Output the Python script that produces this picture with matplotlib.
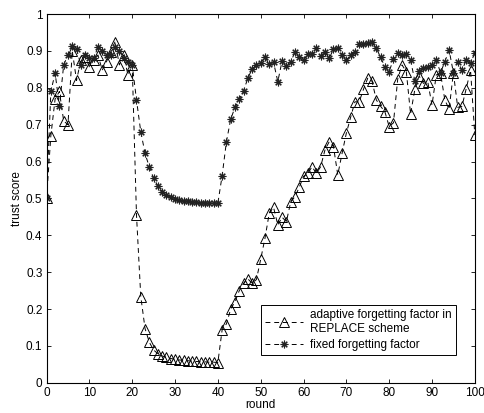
import matplotlib
matplotlib.use("Agg")
import matplotlib.pyplot as plt
import numpy as np

# ── Data ─────────────────────────────────────────────────────────────
rounds = np.arange(0, 101)

adaptive = [
    0.50, 0.67, 0.77, 0.79, 0.71, 0.70, 0.90, 0.82, 0.875, 0.884,
    0.857, 0.875, 0.889, 0.848, 0.871, 0.898, 0.925, 0.862, 0.889, 0.835,
    0.862, 0.455, 0.234, 0.147, 0.11, 0.089, 0.079, 0.073, 0.069, 0.066,
    0.064, 0.062, 0.061, 0.060, 0.059, 0.058, 0.057, 0.057, 0.056, 0.056,
    0.055, 0.144, 0.16, 0.20, 0.22, 0.25, 0.27, 0.282, 0.27, 0.28,
    0.335, 0.392, 0.46, 0.476, 0.428, 0.449, 0.437, 0.49, 0.505, 0.53,
    0.56, 0.568, 0.586, 0.568, 0.586, 0.631, 0.654, 0.64, 0.564, 0.622,
    0.677, 0.72, 0.762, 0.762, 0.796, 0.826, 0.818, 0.767, 0.75, 0.735,
    0.695, 0.705, 0.824, 0.862, 0.844, 0.729, 0.796, 0.832, 0.812, 0.817,
    0.753, 0.835, 0.839, 0.767, 0.742, 0.841, 0.747, 0.75, 0.798, 0.848,
    0.672,
]

fixed = [
    0.50, 0.79, 0.84, 0.75, 0.862, 0.889, 0.914, 0.905, 0.862, 0.89,
    0.88, 0.88, 0.91, 0.90, 0.89, 0.89, 0.91, 0.90, 0.88, 0.87,
    0.862, 0.767, 0.681, 0.622, 0.585, 0.555, 0.534, 0.518, 0.509, 0.503,
    0.499, 0.496, 0.494, 0.492, 0.491, 0.490, 0.489, 0.488, 0.488, 0.487,
    0.487, 0.562, 0.654, 0.715, 0.747, 0.769, 0.792, 0.826, 0.851, 0.862,
    0.868, 0.883, 0.864, 0.869, 0.817, 0.873, 0.86, 0.871, 0.896, 0.883,
    0.875, 0.891, 0.891, 0.907, 0.886, 0.898, 0.88, 0.905, 0.907, 0.889,
    0.875, 0.889, 0.898, 0.918, 0.918, 0.921, 0.923, 0.907, 0.883, 0.857,
    0.844, 0.878, 0.895, 0.889, 0.891, 0.875, 0.818, 0.846, 0.853, 0.857,
    0.862, 0.875, 0.841, 0.871, 0.902, 0.841, 0.871, 0.848, 0.875, 0.866,
    0.895,
]

xticks = np.arange(0, 101, 10)
yticks = np.round(np.arange(0, 1.01, 0.1), 1)
ytick_labels = ["0"] + [f"{v:g}" for v in yticks[1:-1]] + ["1"]

label_adaptive = "adaptive forgetting factor in\nREPLACE scheme"
label_fixed = "fixed forgetting factor"

# ── Plot ─────────────────────────────────────────────────────────────
plt.rcParams["font.family"] = ["Liberation Sans", "DejaVu Sans"]

fig = plt.figure(figsize=(4.85, 4.13), dpi=100)
ax = fig.add_axes([0.096, 0.073, 0.883, 0.893])

dash = (0, (5, 4))
ax.plot(rounds, adaptive, color="black", linestyle=dash, linewidth=0.7,
        marker="^", markersize=6.5, markerfacecolor="none",
        markeredgecolor="black", markeredgewidth=0.7, label=label_adaptive)
ax.plot(rounds, fixed, color="black", linestyle=dash, linewidth=0.7,
        marker=(8, 2, 0), markersize=5.5, markeredgecolor="#222222",
        markeredgewidth=0.8, label=label_fixed)

ax.set_xlim(0, 100)
ax.set_ylim(0, 1)
ax.set_xticks(xticks)
ax.set_yticks(yticks)
ax.set_yticklabels(ytick_labels)
ax.tick_params(direction="in", top=True, right=True, labelsize=8.5,
               length=3, width=0.6, pad=3)
for s in ax.spines.values():
    s.set_linewidth(0.8)

ax.set_xlabel("round", fontsize=8.5, labelpad=0)
ax.set_ylabel("trust score", fontsize=8.5, labelpad=2)

leg = ax.legend(loc="lower right", bbox_to_anchor=(0.955, 0.075),
                fontsize=8.5, frameon=True, fancybox=False, framealpha=1,
                edgecolor="black", handlelength=3.2, borderpad=0.35,
                labelspacing=0.35, handletextpad=0.6, borderaxespad=0)
leg.get_frame().set_linewidth(0.7)

fig.savefig("out.png", dpi=100)
